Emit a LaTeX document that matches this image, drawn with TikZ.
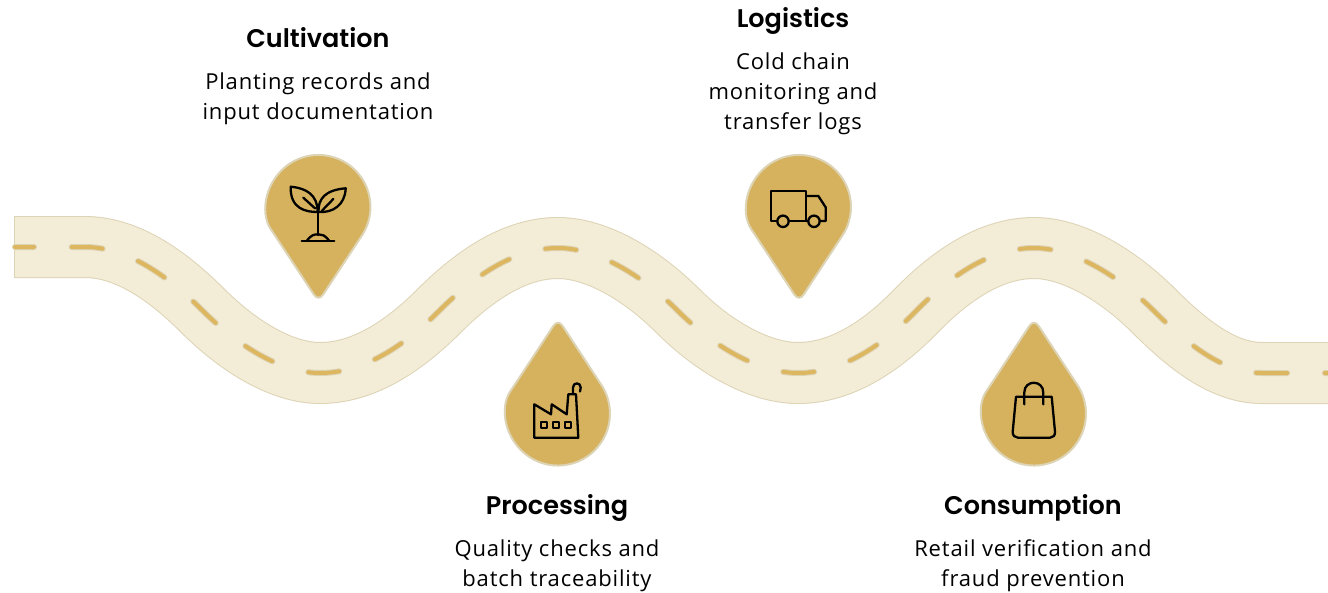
\documentclass[tikz,border=0pt]{standalone}
\usepackage{fontspec}
\setmainfont[LetterSpace=3.8]{Open Sans}
\newfontfamily\headfont[UprightFont=* SemiBold]{Poppins}
\usetikzlibrary{positioning}
\definecolor{roadfill}{HTML}{F3ECD6}
\definecolor{roadedge}{HTML}{DDD3B5}
\definecolor{pingold}{HTML}{D6B25E}
\definecolor{lanegold}{HTML}{DDB75F}
% centre line of the road, without its first point
\def\roadpath{-- (85,247)
  .. controls (125,247) and (165,273) .. (202,310)
  .. controls (240,348) and (283,373) .. (320,373)
  .. controls (362,373) and (402,348) .. (439,311)
  .. controls (476,274) and (516,248) .. (558,248)
  .. controls (595,248) and (640,273) .. (678,311)
  .. controls (716,349) and (761,373) .. (798,373)
  .. controls (840,373) and (880,348) .. (916,311)
  .. controls (952,274) and (992,248) .. (1034,248)
  .. controls (1071,248) and (1116,273) .. (1154,311)
  .. controls (1190,347) and (1225,373) .. (1262,373)
  -- (1340,373)}
\tikzset{
    %Define road styles
    roadouter/.style={draw=roadedge, line width=62pt},
    roadinner/.style={draw=roadfill, line width=60pt},
    lanehalo/.style={draw=roadedge, line width=6pt, line cap=round,
           dash pattern=on 31pt off 37.7pt, dash phase=12pt},
    lanedash/.style={draw=lanegold, line width=4pt, line cap=round,
           dash pattern=on 31pt off 37.7pt, dash phase=12pt},
    %Define style for texts
    headtext/.style={font=\headfont\fontsize{25.5}{30}\selectfont, inner sep=0pt,
           text height=20pt, text depth=6pt, anchor=base},
    bodytext/.style={font=\fontsize{22}{30}\selectfont, align=center, inner sep=0pt},
    icon/.style={draw=black, line width=2.3pt, line join=round, line cap=round},
    %Define pin
    pin/.pic={
      \draw[fill=pingold, draw=roadedge, line width=2pt]
        (-43.3,28.8) arc[start angle=146.3, end angle=393.7, radius=52]
        [rounded corners=8pt] -- (0,94.6) -- cycle;
    }
}
\begin{document}
\begin{tikzpicture}[x=1pt,y=-1pt]
\useasboundingbox (0,0) rectangle (1328,592);
 %road
\path[roadouter] (14,247) \roadpath;
\path[roadinner] (15,247) \roadpath;
\path[lanehalo] (15,247) \roadpath;
\path[lanedash] (15,247) \roadpath;
 %pins
\pic at (318.5,207) {pin};
\pic[yscale=-1] at (558,413.5) {pin};
\pic at (799,207) {pin};
\pic[yscale=-1] at (1034,413.5) {pin};
 %sprout
\begin{scope}[shift={(318,207)}]
\draw[icon] (-27.3,-20.3) .. controls (-12,-19) and (0,-12) .. (-0.5,5) .. controls (-12,5) and (-28,2) .. cycle;
\draw[icon] (27.7,-18.7) .. controls (7,-17) and (0,-8) .. (0.5,5) .. controls (15,6) and (27,-2) .. cycle;
\draw[icon] (-14.7,-9.3) -- (-3,1.3);
\draw[icon] (15.3,-8) -- (3.7,4);
\draw[icon] (0.3,5) -- (0.3,28);
\draw[icon] (-16.3,34) -- (16.3,34);
\draw[icon] (-11.3,34) .. controls (-7,28) and (-4,27.3) .. (0.3,27.3) .. controls (4,27.3) and (7,28) .. (11.3,34);
\end{scope}
 %factory
\begin{scope}[shift={(558,413.5)}]
\draw[icon] (-23.7,24.2) -- (-23.7,-9.2) -- (-7,0.8) -- (-6.3,-9.2) -- (8.7,0.8) -- (10.3,-19.2) -- (18,-19.2) -- (20.3,24.2) -- cycle;
\draw[icon] (15,-20.2) -- (15,-26) .. controls (15,-31.5) and (22.7,-31.5) .. (22.7,-26) -- (22,-22);
\foreach \wx in {-13.7,-1.7,10.3}
  \draw[icon] (\wx-3,8.5) rectangle (\wx+3,14.5);
\end{scope}
 %truck
\begin{scope}[shift={(799,207)}]
\draw[icon] (-28,14) -- (-28,-16.3) -- (7,-16.3) -- (7,14) -- cycle;
\draw[icon] (7,-11) -- (19.3,-11) -- (26.7,0.3) -- (26.7,14) -- (7,14);
\draw[icon, fill=pingold] (-16,14.3) circle[radius=5.7];
\draw[icon, fill=pingold] (15,14.3) circle[radius=5.7];
\end{scope}
 %bag
\begin{scope}[shift={(1034,413.5)}]
\draw[icon] (-18,-16.8) -- (17.7,-16.8) -- (21,18.2) .. controls (21.3,22) and (19,24.2) .. (16,24.2) -- (-16,24.2) .. controls (-19,24.2) and (-21.6,22) .. (-21.3,18.2) -- cycle;
\draw[icon] (-9.7,-9.2) -- (-9.7,-21) .. controls (-9.7,-34) and (9.3,-34) .. (9.3,-21) -- (9.3,-9.2);
\end{scope}
 %texts
\node[headtext] (cultivation) at (318,47.5) {Cultivation};
\node[bodytext, below=19pt of cultivation] (cultivationtext) {Planting records and\\input documentation};
\node[headtext] (logistics) at (793,27.5) {Logistics};
\node[bodytext, below=19pt of logistics] (logisticstext) {Cold chain\\monitoring and\\transfer logs};
\node[headtext] (processing) at (557,514.5) {Processing};
\node[bodytext, below=19pt of processing] (processingtext) {Quality checks and\\batch traceability};
\node[headtext] (consumption) at (1033,514.5) {Consumption};
\node[bodytext, below=19pt of consumption] (consumptiontext) {Retail verification and\\fraud prevention};
\end{tikzpicture}
\end{document}
